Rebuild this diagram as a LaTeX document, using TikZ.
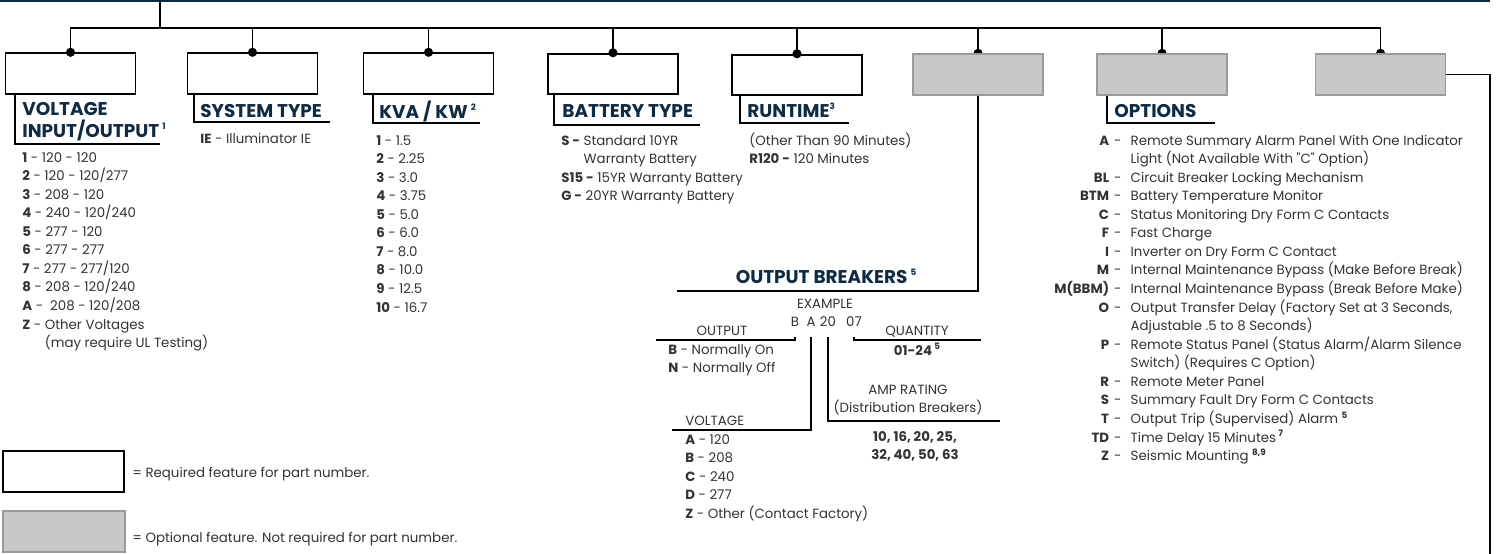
\documentclass[tikz,border=0pt]{standalone}
\usepackage{fontspec}
\setmainfont{Poppins}[Ligatures=TeXOff]
\usetikzlibrary{calc,backgrounds}

\definecolor{navy}{HTML}{0D2B45}
\definecolor{optfill}{HTML}{C8C8C8}
\definecolor{optline}{HTML}{9A9A9A}
\definecolor{ink}{HTML}{333333}

\newcommand{\txtfont}{\fontsize{7.6}{10.57}\selectfont}
\newcommand{\hdfont}{\fontsize{10.5}{12.2}\selectfont\bfseries}
\newcommand{\supnum}[1]{\raisebox{0.75ex}{\fontsize{5}{5}\selectfont\bfseries #1}}
\newcommand{\listrows}[1]{\begin{tabular}[t]{@{}l@{}}#1\end{tabular}}
\newcommand{\optkey}[2]{\makebox[30.6pt][r]{\textbf{#1}}\hspace{2.8pt}-\hspace{5.3pt}#2}
\newcommand{\optmore}[1]{\phantom{\optkey{}{}}#1}

\begin{document}
\begin{tikzpicture}[x=0.02cm, y=-0.02cm,
    link/.style={line width=1.1pt},
    reqbox/.style={draw=black, line width=1.1pt, fill=white, minimum width=2.6cm, minimum height=0.81cm, inner sep=0pt},
    optbox/.style={reqbox, draw=optline, fill=optfill},
    headtxt/.style={font=\hdfont, text=navy, anchor=base west, inner sep=0pt},
    entries/.style={font=\txtfont, text=ink, anchor=base west, inner sep=0pt},
    txtc/.style={font=\txtfont, text=ink, anchor=base, inner sep=0pt},
    codechar/.style={font=\txtfont, text=ink, anchor=base, inner xsep=0pt, inner ysep=6pt}]
  \useasboundingbox (0,0) rectangle (1497,554);

  % top rule and feed
  \draw[navy, line width=1.2pt] (0,1) -- (1490,1);
  \coordinate (feed) at (160,0);
  \coordinate (busL) at (70,28);

  % part number boxes
  \node[reqbox] (vin) at (70.5,73.5) {};
  \node[reqbox] (sys) at (252.5,73.5) {};
  \node[reqbox] (kva) at (428.5,73.5) {};
  \node[reqbox] (bat) at (613,74) {};
  \node[reqbox] (run) at (797,75) {};
  \node[optbox] (brk) at (978,74.5) {};
  \node[optbox] (opt) at (1162,74.5) {};
  \node[optbox] (xtra) at (1380.5,74.5) {};

  % bus and stems
  \draw[link] (feed) -- (feed |- busL);
  \draw[link] (vin.north) -- (vin.north |- busL) -- (xtra.north |- busL) -- (xtra.north);
  \foreach \b in {sys,kva,bat,run,brk,opt}
    \draw[link] (\b.north) -- (\b.north |- busL);
  \foreach \b in {vin,sys,kva,bat,run}
    \fill (\b.north) circle (2.6pt);
  \begin{scope}[on background layer]
    \foreach \b in {brk,opt,xtra}
      \fill (\b.north) circle (2.6pt);
  \end{scope}

  % headings
  \node[headtxt] (hvin1) at (22,115) {VOLTAGE};
  \node[headtxt] (hvin2) at (22,137) {INPUT/OUTPUT\,\supnum{1}};
  \node[headtxt] (hsys) at (200,117) {SYSTEM TYPE};
  \node[headtxt] (hkva) at (379,118) {KVA / KW\,\supnum{2}};
  \node[headtxt] (hbat) at (562,117) {BATTERY TYPE};
  \node[headtxt] (hrun) at (747,117) {RUNTIME\supnum{3}};
  \node[headtxt] (hopt) at (1114,117) {OPTIONS};
  \node[headtxt, anchor=base] (hbrk) at (826,283) {OUTPUT BREAKERS\,\supnum{5}};

  \coordinate (vinrule) at (160,144);
  \coordinate (sysrule) at (330,122);
  \coordinate (kvarule) at (480,123);
  \coordinate (batrule) at (700,125);
  \coordinate (runrule) at (849,123);
  \coordinate (optrule) at (1215,123);
  \coordinate (brkrule) at (677,291);
  \coordinate (xtraend) at (1490,554);
  \draw[link] ($(vin.south west)+(10,0)$) |- (vinrule);
  \draw[link] ($(sys.south west)+(7,0)$) |- (sysrule);
  \draw[link] ($(kva.south west)+(10,0)$) |- (kvarule);
  \draw[link] ($(bat.south west)+(7,0)$) |- (batrule);
  \draw[link] ($(run.south west)+(9,0)$) |- (runrule);
  \draw[link] ($(opt.south west)+(11,0)$) |- (optrule);
  \draw[link] (brk.south) |- (brkrule);
  \draw[link] (xtra.east) -| (xtraend);

  % choice lists
  \node[entries] (vinlist) at (22,162) {\listrows{%
    \textbf{1} - 120 - 120\\
    \textbf{2} - 120 - 120/277\\
    \textbf{3} - 208 - 120\\
    \textbf{4} - 240 - 120/240\\
    \textbf{5} - 277 - 120\\
    \textbf{6} - 277 - 277\\
    \textbf{7} - 277 - 277/120\\
    \textbf{8} - 208 - 120/240\\
    \textbf{A} -\ \ 208 - 120/208\\
    \textbf{Z} - Other Voltages\\
    \phantom{\textbf{Z} - }(may require UL Testing)}};
  \node[entries] (syslist) at (200,143) {\textbf{IE} - Illuminator IE};
  \node[entries] (kvalist) at (376,145) {\listrows{%
    \textbf{1} - 1.5\\
    \textbf{2} - 2.25\\
    \textbf{3} - 3.0\\
    \textbf{4} - 3.75\\
    \textbf{5} - 5.0\\
    \textbf{6} - 6.0\\
    \textbf{7} - 8.0\\
    \textbf{8} - 10.0\\
    \textbf{9} - 12.5\\
    \textbf{10} - 16.7}};
  \node[entries] (batlist) at (561,145) {\listrows{%
    \textbf{S -} Standard 10YR\\
    \phantom{\textbf{S -} }Warranty Battery\\
    \textbf{S15 -} 15YR Warranty Battery\\
    \textbf{G -} 20YR Warranty Battery}};
  \node[entries] (runlist) at (749,145) {\listrows{%
    (Other Than 90 Minutes)\\
    \textbf{R120 -} 120 Minutes}};
  \node[entries] (optlist) at (1055,145) {\listrows{%
    \optkey{A}{Remote Summary Alarm Panel With One Indicator}\\
    \optmore{Light (Not Available With "C" Option)}\\
    \optkey{BL}{Circuit Breaker Locking Mechanism}\\
    \optkey{BTM}{Battery Temperature Monitor}\\
    \optkey{C}{Status Monitoring Dry Form C Contacts}\\
    \optkey{F}{Fast Charge}\\
    \optkey{I}{Inverter on Dry Form C Contact}\\
    \optkey{M}{Internal Maintenance Bypass (Make Before Break)}\\
    \optkey{M(BBM)}{Internal Maintenance Bypass (Break Before Make)}\\
    \optkey{O}{Output Transfer Delay (Factory Set at 3 Seconds,}\\
    \optmore{Adjustable .5 to 8 Seconds)}\\
    \optkey{P}{Remote Status Panel (Status Alarm/Alarm Silence}\\
    \optmore{Switch) (Requires C Option)}\\
    \optkey{R}{Remote Meter Panel}\\
    \optkey{S}{Summary Fault Dry Form C Contacts}\\
    \optkey{T}{Output Trip (Supervised) Alarm \supnum{5}}\\
    \optkey{TD}{Time Delay 15 Minutes\,\supnum{7}}\\
    \optkey{Z}{Seismic Mounting \supnum{8,9}}}};

  % output breakers example
  \node[txtc] (exhead) at (825,308) {EXAMPLE};
  \node[codechar] (exB) at (795,326) {B};
  \node[codechar] (exA) at (811,326) {A};
  \node[codechar] (ex20) at (828,326) {20};
  \node[codechar] (ex07) at (854,326) {07};
  \coordinate (outrule) at (656,340);
  \coordinate (qtyrule) at (981,340);
  \coordinate (voltrule) at (672,430);
  \coordinate (amprule) at (1000,421);
  \draw[link] (exB.south) |- (outrule);
  \draw[link] (ex07.south) |- (qtyrule);
  \draw[link] (exA.south) |- (voltrule);
  \draw[link] (ex20.south) |- (amprule);

  \node[txtc] (outlbl) at (722,335) {OUTPUT};
  \node[entries] (outlist) at (668,354) {\listrows{%
    \textbf{B} - Normally On\\
    \textbf{N} - Normally Off}};
  \node[txtc] (qtylbl) at (917,335) {QUANTITY};
  \node[txtc, font=\txtfont\bfseries] (qtyval) at (917,355) {01-24\,\supnum{5}};
  \node[txtc] (amplbl) at (908,394) {AMP RATING};
  \node[txtc] (ampsub) at (908,412) {(Distribution Breakers)};
  \node[txtc, font=\txtfont\bfseries] (ampval1) at (915,441) {10, 16, 20, 25,};
  \node[txtc, font=\txtfont\bfseries] (ampval2) at (915,459) {32, 40, 50, 63};
  \node[entries] (voltlbl) at (685,425) {VOLTAGE};
  \node[entries] (voltlist) at (685,444) {\listrows{%
    \textbf{A} - 120\\
    \textbf{B} - 208\\
    \textbf{C} - 240\\
    \textbf{D} - 277\\
    \textbf{Z} - Other (Contact Factory)}};

  % legend
  \node[reqbox, minimum width=2.42cm] (legreq) at (63.5,471.5) {};
  \node[entries] (legreqtxt) at (132,477) {= Required feature for part number.};
  \node[optbox, minimum width=2.44cm] (legopt) at (64,531.5) {};
  \node[entries] (legopttxt) at (132,542) {= Optional feature. Not required for part number.};
\end{tikzpicture}
\end{document}
